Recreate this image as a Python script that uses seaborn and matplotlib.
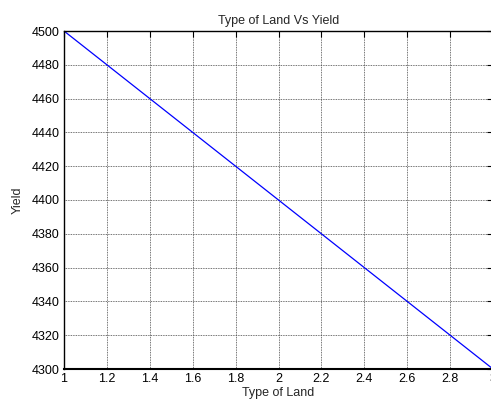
import matplotlib
matplotlib.use('Agg')
import matplotlib.pyplot as plt
import seaborn as sns
import pandas as pd

# values
land_type = [1.0, 1.2, 1.4, 1.6, 1.8, 2.0, 2.2, 2.4, 2.6, 2.8, 3.0]
yield_vals = [4500, 4480, 4460, 4440, 4420, 4400, 4380, 4360, 4340, 4320, 4300]
x_ticks = [1, 1.2, 1.4, 1.6, 1.8, 2, 2.2, 2.4, 2.6, 2.8, 3]
x_tick_labels = ['1', '1.2', '1.4', '1.6', '1.8', '2', '2.2', '2.4', '2.6', '2.8', '3']
y_ticks = list(range(4300, 4501, 20))

df = pd.DataFrame({'Type of Land': land_type, 'Yield': yield_vals})

sns.set_style('white')
plt.rcParams['font.family'] = ['Liberation Sans', 'DejaVu Sans']
plt.rcParams['font.size'] = 9

fig = plt.figure(figsize=(4.91, 4.07), dpi=100)
ax = fig.add_axes([64 / 491, 38 / 407, 429 / 491, 338 / 407])

sns.lineplot(data=df, x='Type of Land', y='Yield', color='blue', linewidth=0.9, ax=ax)

ax.set_xlim(1, 3)
ax.set_ylim(4300, 4500)
ax.set_xticks(x_ticks)
ax.set_xticklabels(x_tick_labels)
ax.set_yticks(y_ticks)
ax.grid(True, linestyle=(0, (1, 1)), color='#444444', linewidth=0.6)
ax.tick_params(direction='in', length=4, width=0.8, colors='black',
               labelsize=9, top=True, right=True, pad=3)
for side in ax.spines.values():
    side.set_color('black')
    side.set_linewidth(1.0)
ax.spines['bottom'].set_linewidth(1.5)

ax.set_title('Type of Land Vs Yield', fontsize=9, pad=5)
ax.set_xlabel('Type of Land', fontsize=9, labelpad=1)
ax.set_ylabel('Yield', fontsize=9, labelpad=6)

fig.savefig('out.png', dpi=100)
